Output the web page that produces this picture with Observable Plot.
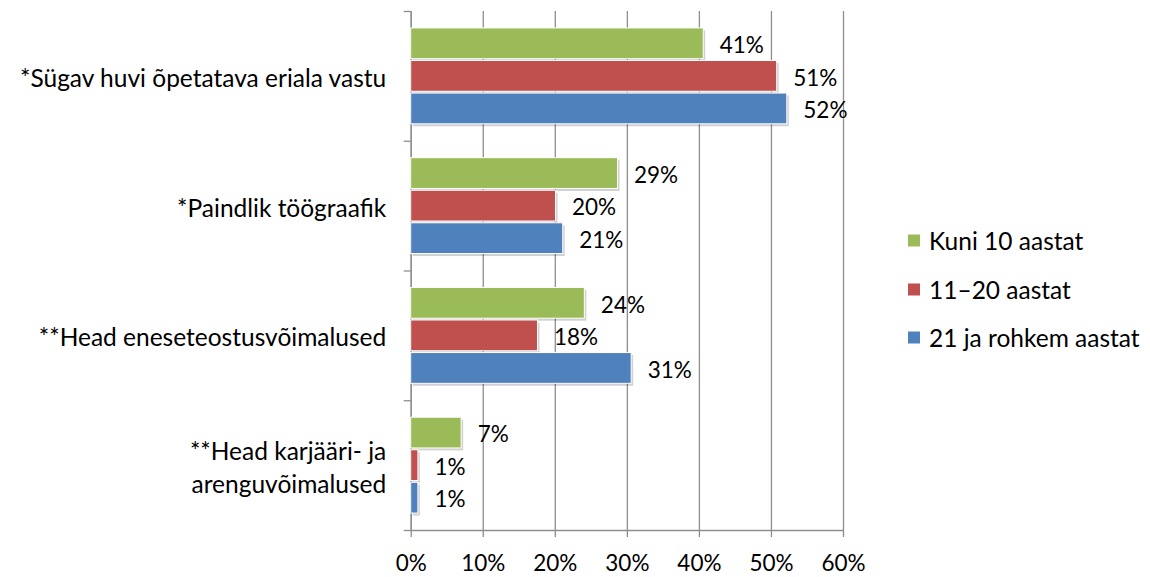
<!DOCTYPE html>
<html>
<head>
<meta charset="utf-8">
<script src="https://cdn.jsdelivr.net/npm/d3@7"></script>
<script src="https://cdn.jsdelivr.net/npm/@observablehq/plot@0.6"></script>
<style>
  html, body { margin: 0; padding: 0; background: #fff; }
  #wrap { position: relative; width: 1150px; height: 577px; font-family: Lato, sans-serif; }
  #legend { position: absolute; left: 908px; top: 0; }
  .item { position: absolute; left: 0; display: flex; align-items: center; white-space: nowrap; font-size: 24.5px; color: #000; transform: translateY(-50%); }
  .sw { width: 12px; height: 12px; margin-right: 9px; flex: none; }
</style>
</head>
<body>
<div id="wrap"><div id="legend"></div></div>
<script>
const categories = [
  "*Sügav huvi õpetatava eriala vastu",
  "*Paindlik töögraafik",
  "**Head eneseteostusvõimalused",
  "**Head karjääri- ja\narenguvõimalused"
];
const series = ["Kuni 10 aastat", "11–20 aastat", "21 ja rohkem aastat"];
const colors = ["#9BBB59", "#C0504D", "#4F81BD"];
const kuni10 = [40.6, 28.7, 24.1, 7.0];
const v11_20 = [50.8, 20.1, 17.6, 1.0];
const v21plus = [52.2, 21.1, 30.6, 1.0];
const xTicks = [0, 10, 20, 30, 40, 50, 60];

const seriesValues = [kuni10, v11_20, v21plus];
const rows = [];
categories.forEach((c, ci) => series.forEach((s, si) => rows.push({cat: c, ci, series: s, si, value: seriesValues[si][ci]})));

// position of each series bar within its category band (category band = 1 unit)
const inner = d3.scaleBand().domain(series).range([0, 1]).paddingInner(0.055).paddingOuter(0.52);
const bw = inner.bandwidth();
const y1 = d => d.ci + inner(d.series);
const y2 = d => d.ci + inner(d.series) + bw;
const ym = d => d.ci + inner(d.series) + bw / 2;

const gridColor = "#8e8e8e";

const chart = Plot.plot({
  width: 1150,
  height: 577,
  marginLeft: 410.7,
  marginRight: 307,
  marginTop: 11,
  marginBottom: 47,
  style: {fontFamily: "Lato, sans-serif", fontSize: "22px", color: "#000", background: "transparent"},
  x: {domain: [0, 60]},
  y: {domain: [0, categories.length], range: [11, 530]},
  color: {domain: series, range: colors},
  marks: [
    Plot.gridX(xTicks, {stroke: gridColor, strokeOpacity: 1, strokeWidth: 1.3}),
    Plot.ruleX([0], {stroke: gridColor, strokeWidth: 1.3}),
    Plot.ruleY([categories.length], {stroke: gridColor, strokeWidth: 1.3}),
    Plot.axisX({ticks: xTicks, tickFormat: d => d + "%", tickSize: 7, tickPadding: 18, stroke: gridColor, strokeWidth: 1.3, fontSize: 22.5, label: null}),
    Plot.axisY({ticks: d3.range(categories.length + 1), tickFormat: () => "", tickSize: 7, stroke: gridColor, strokeWidth: 1.3, label: null}),
    // shadow
    Plot.rect(rows, {x1: 0, x2: "value", y1, y2, fill: "#000", fillOpacity: 0.18, dx: 2, dy: 2.5}),
    Plot.rect(rows, {x1: 0, x2: "value", y1, y2, fill: "series", stroke: "#fff", strokeWidth: 1}),
    Plot.text(rows, {x: "value", y: ym, text: d => Math.round(d.value) + "%", dx: 16, dy: 2, textAnchor: "start", fontSize: 22.5, fill: "#000"}),
    Plot.text(categories, {x: 0, y: (d, i) => i + 0.5, text: d => d, dx: -25, textAnchor: "end", fontSize: 24.5, lineHeight: 1.35, fill: "#000"})
  ]
});
document.getElementById("wrap").prepend(chart);

const legendY = [240, 289, 337];
const legend = document.getElementById("legend");
series.forEach((s, i) => {
  const it = document.createElement("div");
  it.className = "item";
  it.style.top = legendY[i] + "px";
  it.innerHTML = `<span class="sw" style="background:${colors[i]}"></span><span>${s}</span>`;
  legend.appendChild(it);
});
</script>
</body>
</html>
